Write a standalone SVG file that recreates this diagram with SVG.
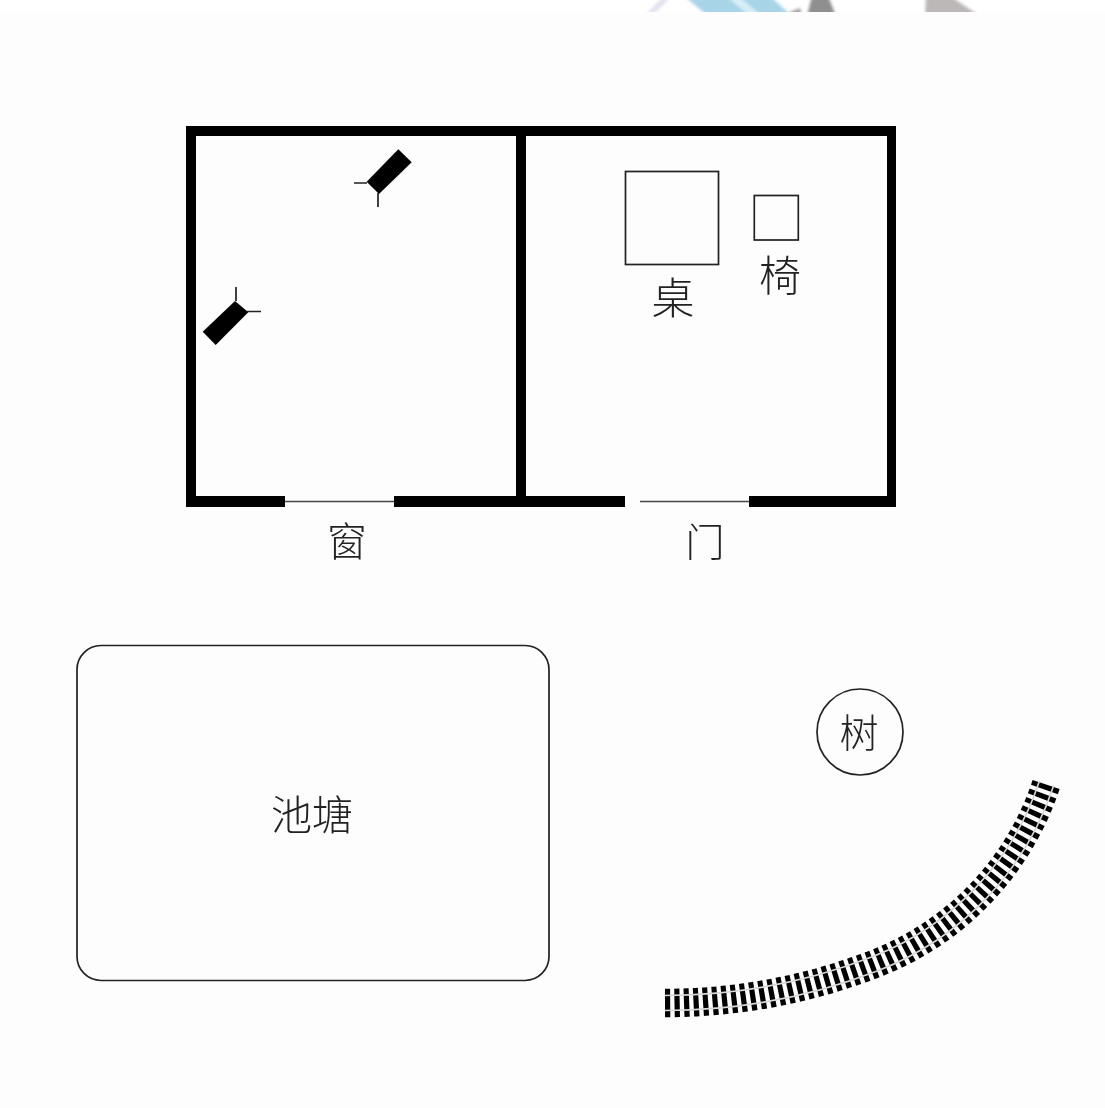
<svg xmlns="http://www.w3.org/2000/svg" width="1105" height="1108" viewBox="0 0 1105 1108">
<defs>
<filter id="soft" x="-2%" y="-2%" width="104%" height="104%"><feGaussianBlur stdDeviation="0.55"/></filter>
<filter id="softer" x="-20%" y="-100%" width="140%" height="300%"><feGaussianBlur stdDeviation="1.6"/></filter>
<clipPath id="strip"><rect width="1105" height="12"/></clipPath>
</defs>
<style>
.wall{fill:#000}
.thin{fill:none;stroke:#222;stroke-width:1.7}
.sill{fill:none;stroke:#444;stroke-width:1.6}
.t{font-family:"Noto Sans CJK SC","Liberation Sans",sans-serif;font-weight:300;fill:#222;text-anchor:middle}
.ties{fill:none;stroke:#000;stroke-width:28.500;stroke-dasharray:5.200 4.300}
.rail{fill:none;stroke:#d8d8d8;stroke-width:1.600}
</style>
<rect width="1105" height="1108" fill="#fdfdfd"/>
<g id="watermark" clip-path="url(#strip)">
<rect width="1105" height="12" fill="#fff"/>
<g filter="url(#softer)">
<polygon points="664,-4 672,-4 652,16 644,16" fill="#e4e2ef"/>
<polygon points="684,-4 770,-4 792,16 708,16" fill="#a8d4e8"/>
<polygon points="726,-4 738,-4 762,16 750,16" fill="#d8eef6"/>
<polygon points="790,12 800,8 802,16 790,16" fill="#a0a0a0"/>
<polygon points="807,16 812,-4 828,-4 836,16" fill="#8f8f8f"/>
<polygon points="925,16 926,-4 950,-4 980,16" fill="#bcb8b8"/>
</g>
</g>
<g filter="url(#soft)">
<g id="house">
<path class="wall" d="M186,126H896V507H749V496H887V136H526V496H625V507H394V496H516V136H196V496H285V507H186Z"/>
<line class="sill" x1="285" y1="501.500" x2="394" y2="501.500"/>
<line class="sill" x1="640" y1="501.500" x2="749" y2="501.500"/>
</g>
<g id="lamp-1">
<polygon points="398.300,149.300 411.700,162.300 379,194 366.700,181.700" fill="#000"/>
<path class="thin" d="M354,183H367M378,193V207"/>
</g>
<g id="lamp-2">
<polygon points="202.700,331.700 235,301 248.300,312.300 215.700,345" fill="#000"/>
<path class="thin" d="M236,287V301M247,311.500H261"/>
</g>
<g id="table"><rect class="thin" x="625.500" y="171.500" width="93" height="93"/><text class="t" x="673" y="314" font-size="43">桌</text></g>
<g id="chair"><rect class="thin" x="754.300" y="195.500" width="44" height="44.500"/><text class="t" x="780" y="291" font-size="42">椅</text></g>
<g id="window-label"><text class="t" x="347" y="556" font-size="40">窗</text></g>
<g id="door-label"><text class="t" x="705" y="556" font-size="39">门</text></g>
<g id="pond"><rect class="thin" x="77" y="645.500" width="472" height="335" rx="24"/><text class="t" x="312" y="830" font-size="41">池塘</text></g>
<g id="tree"><circle class="thin" cx="860" cy="732" r="43"/><text class="t" x="859" y="747" font-size="39">树</text></g>
<g id="track">
<path class="ties" d="M665,1003A582,582 0 0 0 876.400,963.200A290,290 0 0 0 1046.600,783.100"/>
<path class="rail" d="M665,1010.500A589.500,589.500 0 0 0 879.200,970.200A297.500,297.500 0 0 0 1053.700,785.400"/>
<path class="rail" d="M665,995.500A574.500,574.500 0 0 0 873.600,956.200A282.500,282.500 0 0 0 1039.500,780.800"/>
</g>
</g>
</svg>
